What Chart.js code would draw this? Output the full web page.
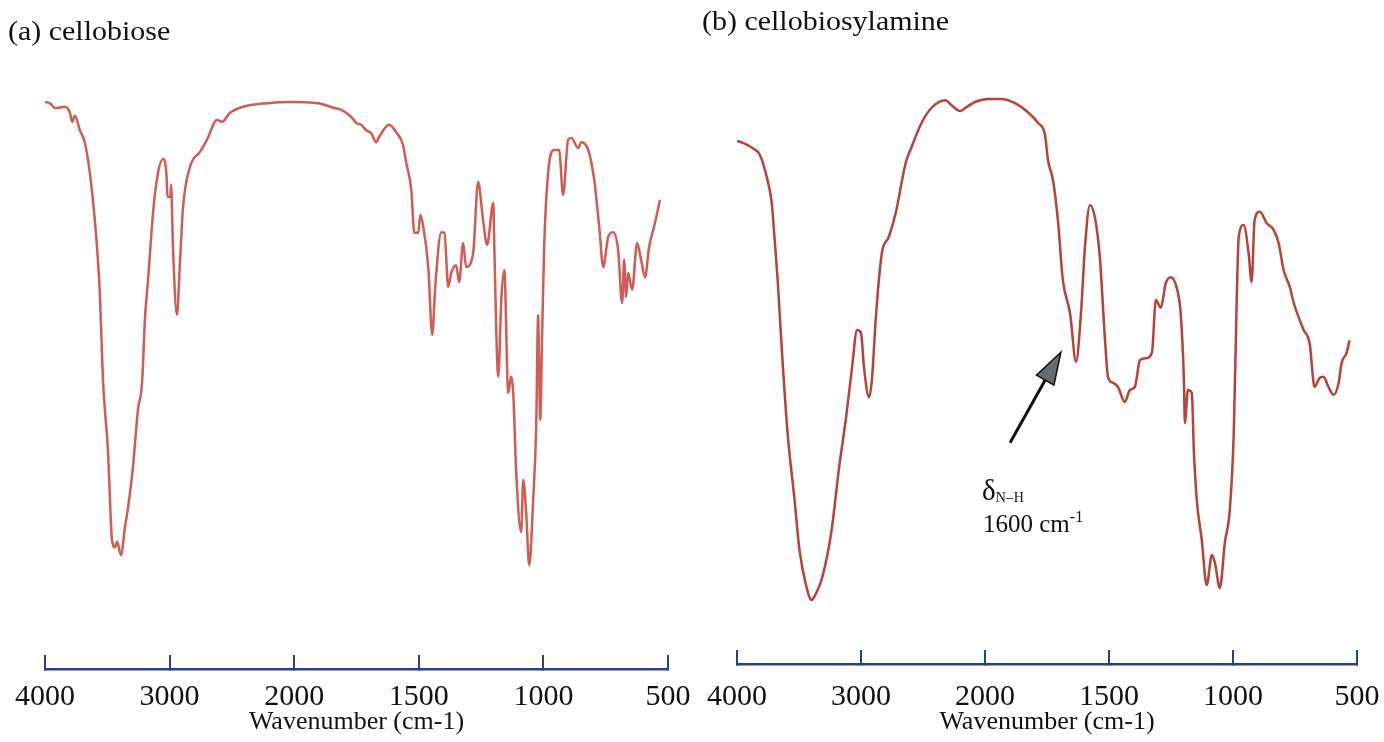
<!DOCTYPE html>
<html>
<head>
<meta charset="utf-8">
<script src="https://cdn.jsdelivr.net/npm/chart.js@4.4.1/dist/chart.umd.min.js"></script>
<style>
  body { margin: 0; background: #fff; width: 1384px; height: 742px; position: relative; overflow: hidden; font-family: "Liberation Serif", serif; color: #111; }
  .box { position: absolute; top: 0; width: 692px; height: 742px; }
  .txt { position: absolute; line-height: 1; white-space: nowrap; transform-origin: left top; }
  sub { font-size: 14px; vertical-align: -2px; letter-spacing: 0.5px; }
  sup { font-size: 16px; vertical-align: 10px; }
</style>
</head>
<body>
<div class="box" style="left:0"><canvas id="chartA"></canvas></div>
<div class="box" style="left:692px"><canvas id="chartB"></canvas></div>
<div class="txt" style="left:8px; top:17px; font-size:28px; transform:scaleX(1.07)">(a) cellobiose</div>
<div class="txt" style="left:702px; top:7px; font-size:28px; transform:scaleX(1.07)">(b) cellobiosylamine</div>
<div class="txt" style="left:982px; top:476px; font-size:29px">δ<sub>N–H</sub></div>
<div class="txt" style="left:983px; top:509px; font-size:25px">1600 cm<sup>-1</sup></div>
<script>
// x axis: 4000-2000 at half the scale of 2000-500
const tickWaves = [4000, 3000, 2000, 1500, 1000, 500]

// (a) cellobiose
const waveA = [4000, 3960, 3920, 3840, 3800, 3783, 3760, 3720, 3680, 3640, 3600, 3560, 3535, 3495, 3462, 3438, 3422, 3390, 3358, 3334,
  3294, 3254, 3221, 3197, 3173, 3133, 3093, 3053, 3024, 3018, 2995, 2988, 2973, 2941, 2917, 2892, 2836, 2756, 2700, 2620,
  2579, 2515, 2411, 2218, 2034, 1904, 1839, 1811, 1771, 1751, 1731, 1711, 1691, 1671, 1659, 1619, 1591, 1563, 1551, 1530,
  1518, 1502, 1494, 1482, 1462, 1446, 1434, 1410, 1397, 1382, 1370, 1350, 1338, 1322, 1310, 1282, 1262, 1242, 1226, 1201,
  1197, 1181, 1169, 1157, 1141, 1129, 1121, 1109, 1089, 1081, 1069, 1057, 1041, 1029, 1021, 1017, 1013, 1005, 997, 981,
  957, 937, 921, 901, 888, 860, 848, 820, 796, 776, 760, 740, 720, 700, 684, 676, 668, 660, 644, 624,
  608, 592, 576, 556, 532]
const transA = [93.5, 93.3, 92.5, 92.7, 91.7, 90.2, 91.2, 88.8, 86.7, 81.7, 73.8, 61.7, 47.2, 35.5, 20.5, 19.3, 20.2, 18.0, 22.7, 25.8,
  32.7, 42.2, 46.7, 57.7, 63.8, 75, 81.7, 84, 81, 77.7, 77.7, 79.7, 69.3, 58, 66.7, 76, 82.7, 85.2, 87.2, 90.5,
  90.2, 91.7, 92.7, 93.3, 93.5, 93.3, 92.5, 92.2, 91, 90, 89.7, 88.8, 88.3, 86.8, 87.7, 89.7, 88.5, 86.3, 83.5, 78.8,
  71.7, 71.7, 74.7, 72.7, 66, 54.7, 62.7, 71.8, 71.7, 62.7, 65, 66.3, 63.5, 70, 66, 68.3, 80.2, 73.8, 69.7, 76.7,
  69.3, 47.7, 60.5, 65.5, 45, 47.7, 45, 31.7, 21.8, 30.5, 25, 16.3, 27.2, 39.3, 58, 49.3, 40.5, 55, 69.3, 81.7,
  85.5, 85.5, 78, 87.2, 87.5, 85.8, 86.8, 85.5, 80.5, 72.7, 66, 71, 71.8, 68.8, 60, 67.2, 61, 65, 62.2, 70,
  67.2, 64.3, 69.3, 72.7, 77.2]

// (b) cellobiosylamine
const waveB = [4000, 3952, 3872, 3816, 3760, 3720, 3696, 3672, 3640, 3592, 3536, 3496, 3440, 3400, 3360, 3312, 3240, 3176, 3120, 3072,
  3032, 3000, 2976, 2936, 2912, 2880, 2832, 2776, 2720, 2640, 2592, 2512, 2432, 2320, 2272, 2200, 2160, 2080, 1988, 1936,
  1879, 1827, 1786, 1758, 1746, 1726, 1706, 1686, 1657, 1633, 1613, 1597, 1577, 1557, 1537, 1516, 1504, 1484, 1464, 1436,
  1416, 1396, 1375, 1351, 1327, 1311, 1291, 1271, 1251, 1222, 1211, 1198, 1194, 1182, 1166, 1158, 1146, 1126, 1106, 1085,
  1073, 1053, 1033, 1013, 997, 985, 977, 957, 937, 925, 913, 892, 864, 836, 816, 796, 771, 755, 715, 691,
  671, 651, 635, 615, 594, 574, 562, 542, 530]
const transB = [87, 86.7, 85.8, 84.7, 81, 76.7, 70.5, 63.8, 52.7, 38.3, 27.2, 18.8, 12.7, 10.5, 11.7, 14.3, 21.7, 32.7, 41, 49.3,
  55.5, 55, 49.3, 44.3, 47.2, 57.7, 68.3, 71, 75, 83.3, 86, 90, 92.5, 93.8, 93, 92, 92.5, 93.5, 94, 94,
  93.3, 91.8, 90, 88, 83.8, 80.5, 73.8, 63.8, 58.3, 50.2, 58.3, 69.3, 76.3, 74.3, 67.7, 53.8, 47.7, 46.7, 46, 43.5,
  45.5, 46, 50.5, 50.8, 51.7, 60.5, 59.2, 63.3, 64.3, 61.7, 58.3, 47.2, 40, 45.5, 45, 35.5, 27.2, 20.5, 13, 18,
  16.7, 12.5, 20, 25.5, 38.3, 60.5, 71, 73, 68.3, 63.5, 73.8, 75.2, 73.3, 72.2, 70, 65.5, 62.7, 60, 55.5, 53.3,
  46, 47.5, 47.7, 46, 44.7, 46.7, 50, 51.7, 53.8]

// arrow for the N-H band, [wavenumber, transmittance]
const arrowFrom = [1899, 36.7]
const arrowTo = [1694, 51.8]

const axisColor = 'rgb(38, 66, 138)'
const serif = 'Liberation Serif'

function toPos(w) {
  return w >= 2000 ? (4000 - w) / 1000 : 2 + (2000 - w) / 500
}

const arrowPlugin = {
  id: 'arrow',
  afterDatasetsDraw(chart) {
    const ctx = chart.ctx
    const x = chart.scales.x, y = chart.scales.y
    const x1 = x.getPixelForValue(toPos(arrowFrom[0])), y1 = y.getPixelForValue(arrowFrom[1])
    const x2 = x.getPixelForValue(toPos(arrowTo[0])), y2 = y.getPixelForValue(arrowTo[1])
    const ang = Math.atan2(y2 - y1, x2 - x1)
    const len = 32, half = 10
    const bx = x2 - len * Math.cos(ang), by = y2 - len * Math.sin(ang)
    ctx.save()
    ctx.strokeStyle = '#111'
    ctx.lineWidth = 3
    ctx.beginPath()
    ctx.moveTo(x1, y1)
    ctx.lineTo(bx, by)
    ctx.stroke()
    ctx.beginPath()
    ctx.moveTo(x2, y2)
    ctx.lineTo(bx + half * Math.sin(ang), by - half * Math.cos(ang))
    ctx.lineTo(bx - half * Math.sin(ang), by + half * Math.cos(ang))
    ctx.closePath()
    ctx.fillStyle = '#656c72'
    ctx.fill()
    ctx.lineWidth = 1.5
    ctx.stroke()
    ctx.restore()
  }
}

function makeChart(id, waves, trans, color, axisY, padRight, plugins) {
  // tick labels sit below the axis line, title near the bottom edge
  const pad = 696 - axisY
  return new Chart(document.getElementById(id), {
    type: 'line',
    data: {
      datasets: [{
        data: waves.map((w, i) => ({ x: toPos(w), y: trans[i] })),
        borderColor: color,
        borderWidth: 2.5,
        pointRadius: 0,
        cubicInterpolationMode: 'monotone',
        fill: false
      }]
    },
    options: {
      responsive: true,
      maintainAspectRatio: false,
      animation: false,
      layout: { padding: { left: 45, right: padRight, top: 63, bottom: 0 } },
      plugins: { legend: { display: false }, tooltip: { enabled: false } },
      scales: {
        x: {
          type: 'linear',
          min: 0,
          max: 5,
          afterBuildTicks: s => { s.ticks = tickWaves.map(w => ({ value: toPos(w) })) },
          afterFit: s => { s.paddingLeft = 0; s.paddingRight = 0 },
          ticks: {
            autoSkip: false,
            maxRotation: 0,
            padding: pad,
            color: '#111',
            font: { family: serif, size: 30, lineHeight: 1 },
            callback: (v, i) => tickWaves[i]
          },
          grid: { drawOnChartArea: false, tickLength: -14, color: axisColor, lineWidth: 2 },
          border: { color: axisColor, width: 2.5 },
          title: {
            display: true,
            text: 'Wavenumber (cm-1)',
            color: '#111',
            font: { family: serif, size: 26, lineHeight: 1 },
            padding: { top: 693 - axisY - 2 * pad, bottom: 7 }
          }
        },
        y: { display: false, min: (663 - axisY) / 6, max: 100 }
      }
    },
    plugins: plugins
  })
}

makeChart('chartA', waveA, transA, 'rgb(208, 92, 84)', 669, 24, [])
makeChart('chartB', waveB, transB, 'rgb(184, 66, 56)', 664, 27, [arrowPlugin])
</script>
</body>
</html>
